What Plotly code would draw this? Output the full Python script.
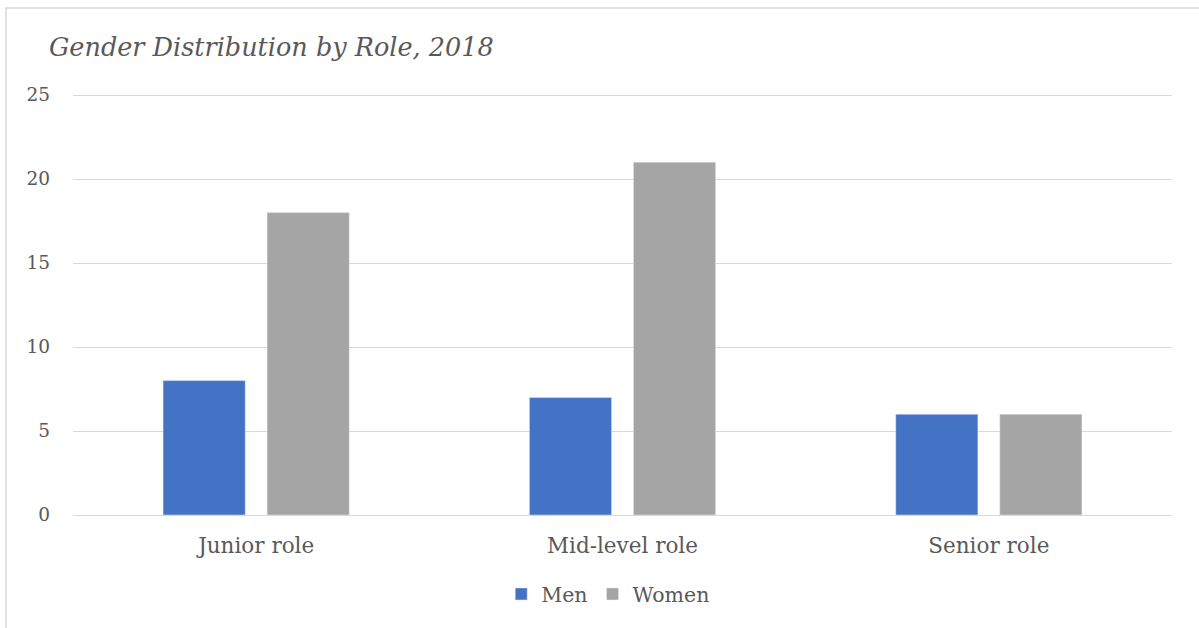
import plotly.graph_objects as go

# Headcount per role level, 2018
roles = ["Junior role", "Mid-level role", "Senior role"]
men = [8, 7, 6]
women = [18, 21, 6]
y_ticks = [0, 5, 10, 15, 20, 25]

FONT = "DejaVu Serif"
TEXT = "#595959"
GRID = "#D9D9D9"

fig = go.Figure()
fig.add_trace(go.Bar(name="Men", x=roles, y=men, marker_color="#4472C4"))
fig.add_trace(go.Bar(name="Women", x=roles, y=women, marker_color="#A5A5A5"))

fig.update_layout(
    width=1199,
    height=628,
    margin=dict(l=73, r=27, t=94, b=113),
    paper_bgcolor="white",
    plot_bgcolor="white",
    barmode="group",
    bargap=0.432,
    bargroupgap=0.21,
    font=dict(family=FONT, color=TEXT, size=18),
    title=dict(
        text="<i>Gender Distribution by Role, 2018</i>",
        x=49 / 1199,
        xref="container",
        xanchor="left",
        y=1 - 47 / 628,
        yref="container",
        yanchor="middle",
        font=dict(family=FONT, size=25.5, color=TEXT),
    ),
    legend=dict(
        orientation="h",
        x=0.487,
        xanchor="center",
        y=-0.188,
        yanchor="middle",
        font=dict(size=20.5, color=TEXT),
        itemwidth=30,
        traceorder="normal",
    ),
    showlegend=True,
)

fig.update_yaxes(
    range=[0, 25.06],
    tickvals=y_ticks,
    showgrid=True,
    gridcolor=GRID,
    gridwidth=1,
    zeroline=False,
    showline=False,
    ticks="",
    ticklabelstandoff=22,
    tickfont=dict(size=18.5, color=TEXT),
)
fig.update_xaxes(
    showline=True,
    linecolor=GRID,
    linewidth=1,
    ticks="",
    ticklabelstandoff=11,
    tickfont=dict(size=21.5, color=TEXT),
)

# Light frame around the chart area
fig.add_shape(
    type="rect",
    xref="paper",
    yref="paper",
    x0=(6 - 73) / 1099,
    x1=1.2,
    y0=-0.4,
    y1=1 + (94 - 8) / 421,
    line=dict(color=GRID, width=1.5),
    fillcolor="rgba(0,0,0,0)",
    layer="below",
)

fig.write_html("out.html")
